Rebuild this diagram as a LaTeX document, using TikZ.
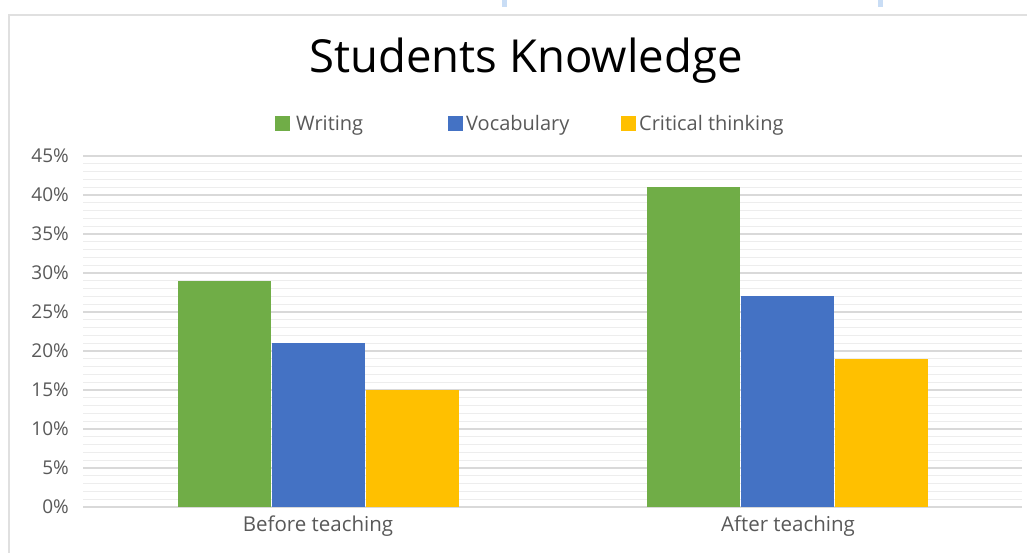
\documentclass[tikz,border=0pt]{standalone}
\usepackage{fontspec}
\setmainfont{Open Sans}
\definecolor{cgreen}{HTML}{70AD47}
\definecolor{cblue}{HTML}{4472C4}
\definecolor{cyellow}{HTML}{FFC000}
\definecolor{labgray}{HTML}{595959}
\definecolor{majgrid}{HTML}{D9D9D9}
\definecolor{mingrid}{HTML}{EDEDED}
\definecolor{framegray}{HTML}{E0E0E0}
\definecolor{markblue}{HTML}{C9DDF5}
\begin{document}
\begin{tikzpicture}[x=1pt,y=-1pt,
  framestyle/.style={draw=framegray,line width=2.5pt},
  majorline/.style={draw=majgrid,line width=1.6pt},
  minorline/.style={draw=mingrid,line width=1.2pt},
  ylab/.style={anchor=east,text=labgray,font=\fontsize{19}{22}\selectfont,inner sep=0pt},
  catlab/.style={anchor=base,text=labgray,font=\fontsize{20.5}{24}\selectfont,inner sep=0pt},
  leglab/.style={anchor=base west,text=labgray,font=\fontsize{20}{24}\selectfont,inner sep=0pt},
  legbox/.style={minimum width=15pt,minimum height=15pt,inner sep=0pt}
]
\useasboundingbox (0,0) rectangle (1027,553);
\fill[white] (0,0) rectangle (1027,553);
% top marks
\fill[markblue] (502,0) rectangle (507,7);
\fill[markblue] (878,0) rectangle (883,7);
% frame
\draw[framestyle] (9,560) -- (9,15) -- (1035,15);
% gridlines
\foreach \i in {0,...,45}{
  \pgfmathsetmacro\yy{507-\i*7.8}
  \pgfmathtruncatemacro\r{mod(\i,5)}
  \ifnum\r=0
    \draw[majorline] (83,\yy) -- (1022,\yy);
    \node[ylab] (y\i) at (69,\yy) {\i\%};
  \else
    \draw[minorline] (83,\yy) -- (1022,\yy);
  \fi
}
% bars
\fill[cgreen] (178,507) rectangle (271,{507-29*7.8});
\fill[cblue] (272,507) rectangle (365,{507-21*7.8});
\fill[cyellow] (366,507) rectangle (459,{507-15*7.8});
\fill[cgreen] (647,507) rectangle (740,{507-41*7.8});
\fill[cblue] (741,507) rectangle (834,{507-27*7.8});
\fill[cyellow] (835,507) rectangle (928,{507-19*7.8});
% category labels
\node[catlab] (before) at (318,531) {Before teaching};
\node[catlab] (after) at (788,531) {After teaching};
% title
\node[text=black,font=\fontsize{45.5}{52}\selectfont,inner sep=0pt] (title) at (526,61) {Students Knowledge};
% legend
\node[legbox,fill=cgreen] (lg1) at (282,124) {};
\node[leglab] (lt1) at (296,131) {Writing};
\node[legbox,fill=cblue] (lg2) at (455,124) {};
\node[leglab] (lt2) at (466,131) {Vocabulary};
\node[legbox,fill=cyellow] (lg3) at (628,124) {};
\node[leglab] (lt3) at (639,131) {Critical thinking};
\end{tikzpicture}
\end{document}
